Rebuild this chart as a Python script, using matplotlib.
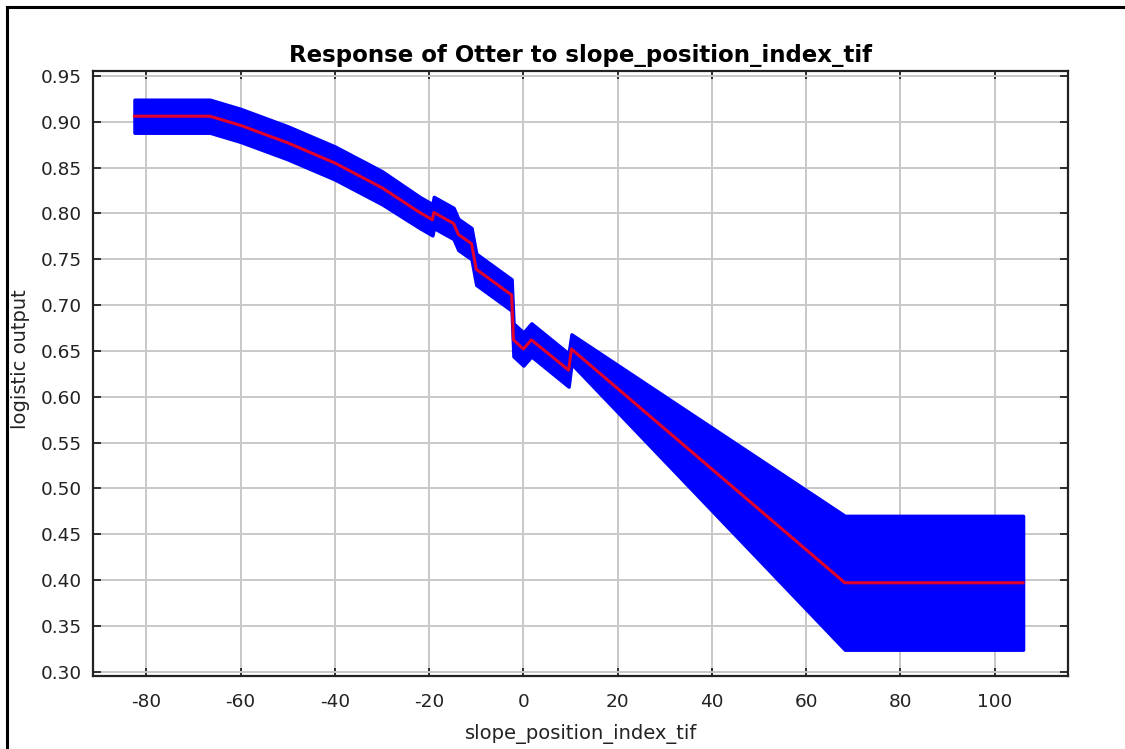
import matplotlib
matplotlib.use("Agg")
import matplotlib.pyplot as plt
import numpy as np
from matplotlib.lines import Line2D

# ---- data ----
x_vals = [-82.5, -66.5, -60.0, -50.0, -40.0, -30.0, -22.0, -19.3, -19.0, -14.8,
          -13.8, -11.0, -10.0, -2.5, -2.1, 0.0, 1.7, 9.6, 10.2, 68.2, 106.0]
y_mean = [0.906, 0.906, 0.896, 0.877, 0.855, 0.828, 0.801, 0.793, 0.801, 0.789,
          0.777, 0.767, 0.739, 0.711, 0.662, 0.652, 0.662, 0.629, 0.652, 0.397, 0.397]
half_width = [0.018, 0.018, 0.018, 0.018, 0.018, 0.018, 0.017, 0.017, 0.017, 0.017,
              0.017, 0.017, 0.017, 0.017, 0.018, 0.018, 0.018, 0.018, 0.016, 0.073, 0.073]

x_ticks = [-80, -60, -40, -20, 0, 20, 40, 60, 80, 100]
y_ticks = [0.30, 0.35, 0.40, 0.45, 0.50, 0.55, 0.60, 0.65, 0.70, 0.75, 0.80, 0.85, 0.90, 0.95]

title = "Response of Otter to slope_position_index_tif"
xlabel = "slope_position_index_tif"
ylabel = "logistic output"

W, H = 1125, 749
fig = plt.figure(figsize=(W / 100, H / 100), dpi=100)
fig.patch.set_facecolor("white")

ax = fig.add_axes([93 / W, 1 - 676 / H, (1068.3 - 93) / W, (676 - 71.3) / H])

x = np.array(x_vals)
ym = np.array(y_mean)
hw = np.array(half_width)

ax.fill_between(x, ym - hw, ym + hw, color="#0000ff", linewidth=2.5,
                edgecolor="#0000ff", zorder=3)
ax.plot(x, ym, color="#e0002a", linewidth=2.2, zorder=4)

ax.set_xlim(-91.3, 115.6)
ax.set_ylim(0.2953, 0.955)
ax.set_xticks(x_ticks)
ax.set_yticks(y_ticks)
ax.set_xticklabels([str(t) for t in x_ticks])
ax.set_yticklabels([f"{t:.2f}" for t in y_ticks])

ax.grid(True, color="#c8c8c8", linewidth=1.4, zorder=0)
ax.set_axisbelow(True)

ax.tick_params(direction="in", length=6, width=1.3, color="#222222",
               top=True, right=True, labelsize=13.3, labelcolor="#222222")
ax.tick_params(axis="x", pad=12)
ax.tick_params(axis="y", pad=8)
for sp in ax.spines.values():
    sp.set_color("#222222")
    sp.set_linewidth(1.6)

ax.set_title(title, fontsize=16.5, fontweight="bold", pad=7)
ax.set_xlabel(xlabel, fontsize=14, color="#222222")
ax.set_ylabel(ylabel, fontsize=14, color="#222222")
ax.xaxis.set_label_coords(0.5, -0.079)
ax.yaxis.set_label_coords(-0.0646, 0.524)

# figure border (top and left)
fig.add_artist(Line2D([7 / W, 1.0], [1 - 7 / H, 1 - 7 / H], color="black",
                      linewidth=2.2, transform=fig.transFigure))
fig.add_artist(Line2D([7 / W, 7 / W], [0.0, 1 - 7 / H], color="black",
                      linewidth=2.2, transform=fig.transFigure))

fig.savefig("out.png", dpi=100)
